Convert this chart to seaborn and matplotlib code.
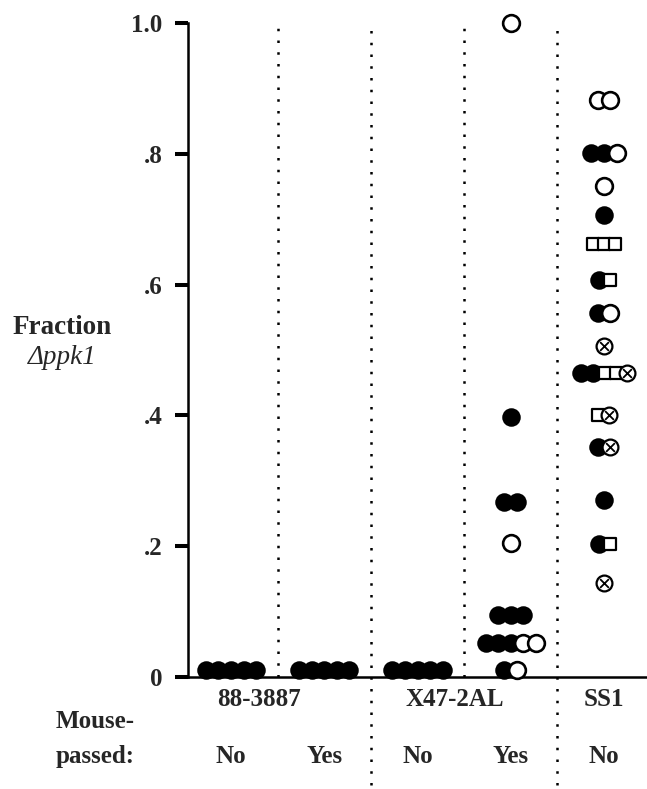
import pandas as pd
import matplotlib.pyplot as plt
import seaborn as sns

# strain / mouse-passed columns
strains = ["88-3887", "X47-2AL", "SS1"]
strain_pos = [0.3, 2.4, 4.0]
passed_labels = ["No", "Yes", "No", "Yes", "No"]
tick_vals = [0, 0.2, 0.4, 0.6, 0.8, 1.0]
tick_text = ["0", ".2", ".4", ".6", ".8", "1.0"]

# fraction of delta-ppk1 per mouse; rows listed left to right
# kind: f = filled circle, o = open circle, s = open square, x = crossed circle
col1_vals = [0.01, 0.01, 0.01, 0.01, 0.01]
col1_kind = ["f", "f", "f", "f", "f"]

col2_vals = [0.01, 0.01, 0.01, 0.01, 0.01]
col2_kind = ["f", "f", "f", "f", "f"]

col3_vals = [0.01, 0.01, 0.01, 0.01, 0.01]
col3_kind = ["f", "f", "f", "f", "f"]

col4_vals = [1.0, 0.397, 0.268, 0.268, 0.205, 0.095, 0.095, 0.095,
             0.052, 0.052, 0.052, 0.052, 0.052, 0.01, 0.01]
col4_kind = ["o", "f", "f", "f", "o", "f", "f", "f",
             "f", "f", "f", "o", "o", "f", "o"]

col5_vals = [0.882, 0.882, 0.801, 0.801, 0.801, 0.751, 0.706,
             0.662, 0.662, 0.662, 0.607, 0.607, 0.557, 0.557, 0.506,
             0.465, 0.465, 0.465, 0.465, 0.465, 0.401, 0.401,
             0.352, 0.352, 0.270, 0.203, 0.203, 0.143]
col5_kind = ["o", "o", "f", "f", "o", "o", "f",
             "s", "s", "s", "f", "s", "f", "o", "x",
             "f", "f", "s", "s", "x", "s", "x",
             "f", "x", "f", "f", "s", "x"]

frames = []
for i, (v, k) in enumerate([(col1_vals, col1_kind), (col2_vals, col2_kind),
                            (col3_vals, col3_kind), (col4_vals, col4_kind),
                            (col5_vals, col5_kind)]):
    frames.append(pd.DataFrame({"col": i, "value": v, "kind": k}))
df = pd.concat(frames, ignore_index=True)

# horizontal packing of points that share a row (in pixels)
half_w = {"f": 6.3, "o": 6.3, "x": 6.3, "s": 5.4}
xlim = (-0.46, 4.46)
px_per_unit = 459 / (xlim[1] - xlim[0])
offsets = pd.Series(0.0, index=df.index)
for _, grp in df.groupby(["col", "value"], sort=False):
    pos = [0.0]
    kinds = list(grp["kind"])
    for a, b in zip(kinds[:-1], kinds[1:]):
        pos.append(pos[-1] + half_w[a] + half_w[b])
    mid = (pos[0] - half_w[kinds[0]] + pos[-1] + half_w[kinds[-1]]) / 2
    offsets[grp.index] = [(p - mid) / px_per_unit for p in pos]
df["x"] = df["col"] + offsets

sns.set_style("white")
plt.rcParams["font.family"] = ["Liberation Serif", "DejaVu Serif"]
plt.rcParams["font.weight"] = "bold"

fig = plt.figure(figsize=(6.47, 7.89), dpi=100)
ax = fig.add_axes([188 / 647, 112 / 789, 1 - 188 / 647, 654 / 789])

# dotted separators
dots = dict(color="black", lw=1.8, linestyle=(0, (1, 3.7)), zorder=1)
for xv in [0.5, 2.5]:
    ax.axvline(xv, ymin=0, ymax=1, **dots)
for xv in [1.5, 3.5]:
    ax.axvline(xv, ymin=-0.165, ymax=1, clip_on=False, **dots)

circ = 145
sq = 68
sns.scatterplot(data=df[df.kind == "f"], x="x", y="value", marker="o", s=circ,
                color="black", edgecolor="black", linewidth=1.3, ax=ax,
                clip_on=False, zorder=3)
sns.scatterplot(data=df[df.kind == "s"], x="x", y="value", marker="s", s=sq,
                color="white", edgecolor="black", linewidth=1.6, ax=ax,
                clip_on=False, zorder=4)
sns.scatterplot(data=df[df.kind == "o"], x="x", y="value", marker="o", s=circ,
                color="white", edgecolor="black", linewidth=1.9, ax=ax,
                clip_on=False, zorder=5)
crossed = df[df.kind == "x"]
sns.scatterplot(data=crossed, x="x", y="value", marker="o", s=circ - 15,
                color="white", edgecolor="black", linewidth=1.6, ax=ax,
                clip_on=False, zorder=6)
sns.scatterplot(data=crossed, x="x", y="value", marker="x", s=40,
                color="black", linewidth=1.3, ax=ax, clip_on=False, zorder=7)

ax.set_xlim(*xlim)
ax.set_ylim(0, 1.0)
ax.set_xticks([])
ax.set_yticks(tick_vals)
ax.set_yticklabels(tick_text)
ax.tick_params(axis="y", left=True, length=9.4, width=2.9, pad=9,
               labelsize=18, color="black")
ax.set_xlabel("")
ax.set_ylabel("")
for side in ["top", "right"]:
    ax.spines[side].set_visible(False)
for side in ["left", "bottom"]:
    ax.spines[side].set_linewidth(1.8)
    ax.spines[side].set_color("black")

trans = ax.get_xaxis_transform()
for name, xp in zip(strains, strain_pos):
    ax.text(xp, -0.035, name, transform=trans, ha="center", va="center",
            fontsize=18, fontweight="bold")
for i, lab in enumerate(passed_labels):
    ax.text(i, -0.122, lab, transform=trans, ha="center", va="center",
            fontsize=18, fontweight="bold")

fig.text(135 / 647, 1 - 722 / 789, "Mouse-", ha="right", va="center",
         fontsize=18, fontweight="bold")
fig.text(135 / 647, 1 - 757 / 789, "passed:", ha="right", va="center",
         fontsize=18, fontweight="bold")
fig.text(62 / 647, 1 - 327 / 789, "Fraction", ha="center", va="center",
         fontsize=19.5, fontweight="bold")
fig.text(62 / 647, 1 - 357 / 789, "\u0394ppk1", ha="center", va="center",
         fontsize=19.5, fontweight="normal", style="italic")

fig.savefig("out.png", dpi=100)
